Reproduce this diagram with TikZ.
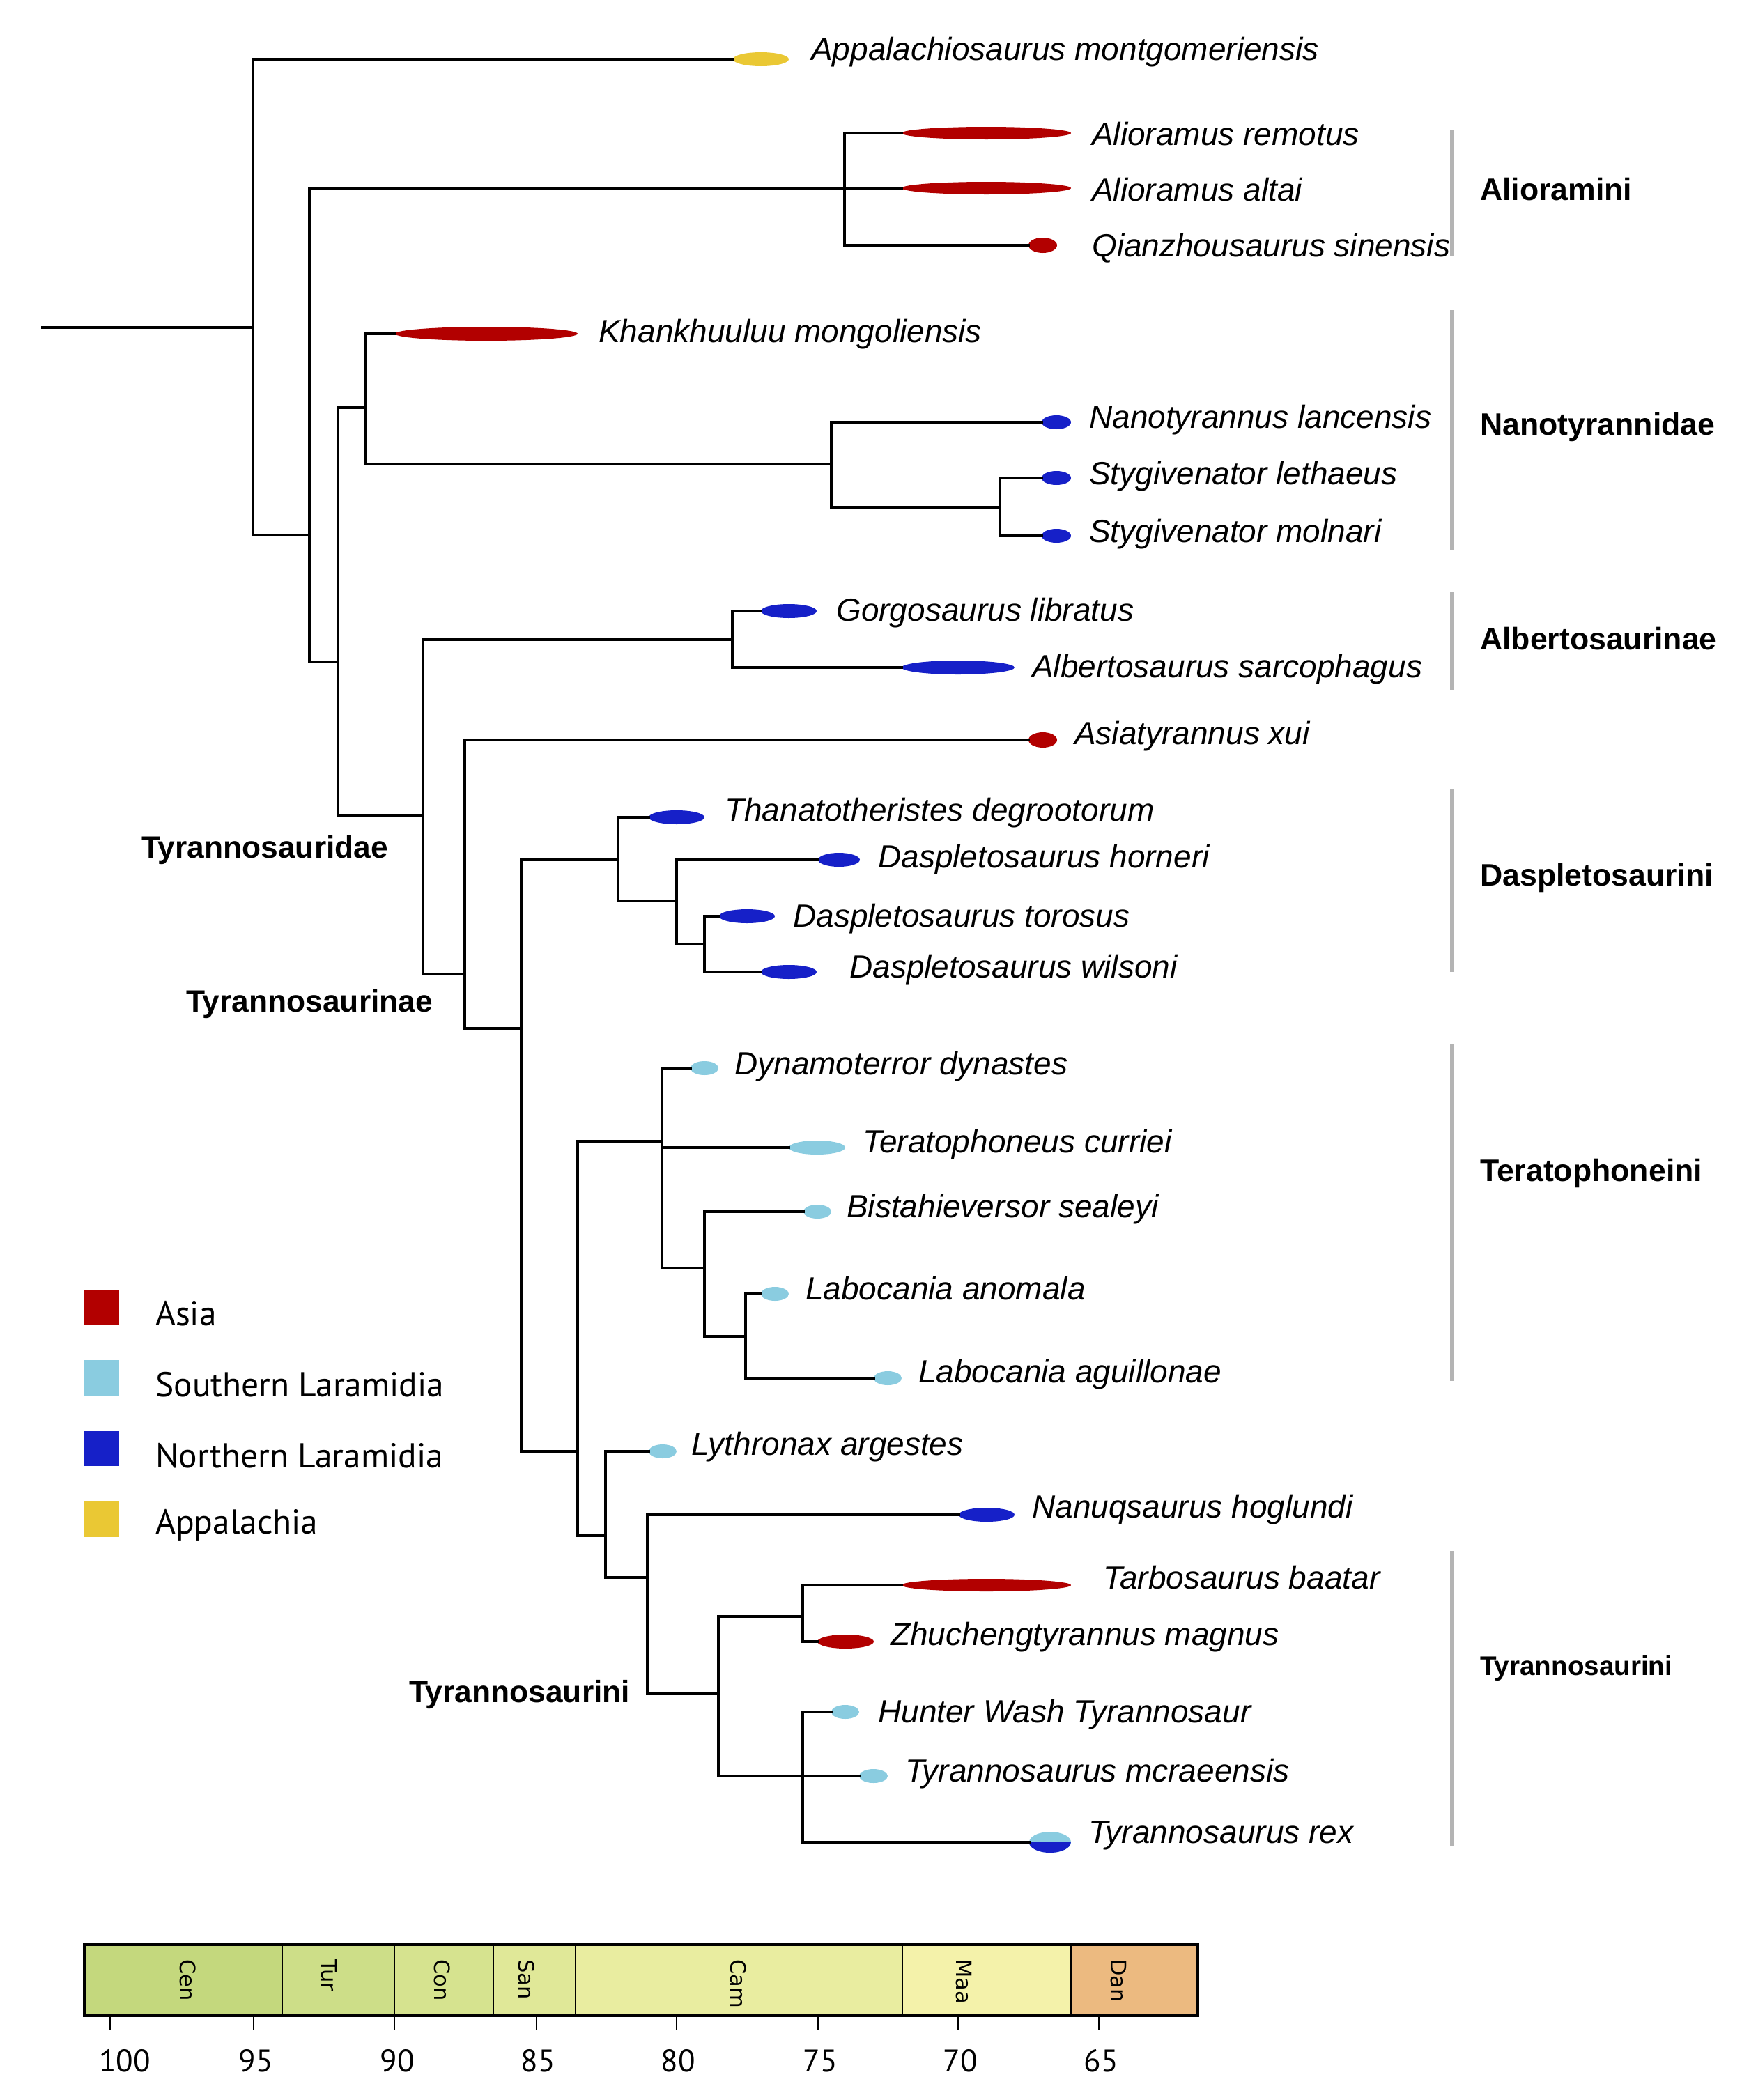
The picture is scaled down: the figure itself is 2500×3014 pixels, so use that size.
\documentclass[tikz,border=0pt]{standalone}
\usepackage{fontspec}
\setmainfont{Liberation Sans}
\newfontfamily\legendfont{PT Sans}
\newfontfamily\stagefont{DejaVu Sans}
\usetikzlibrary{shapes.geometric}
\definecolor{asia}{RGB}{178,0,0}
\definecolor{slar}{RGB}{138,204,224}
\definecolor{nlar}{RGB}{22,32,200}
\definecolor{appa}{RGB}{234,200,52}
\definecolor{brk}{RGB}{180,180,180}
\definecolor{cCen}{RGB}{196,216,125}
\definecolor{cTur}{RGB}{205,222,136}
\definecolor{cCon}{RGB}{214,227,143}
\definecolor{cSan}{RGB}{224,232,152}
\definecolor{cCam}{RGB}{233,237,160}
\definecolor{cMaa}{RGB}{244,242,170}
\definecolor{cDan}{RGB}{236,186,128}
\tikzset{
  branch/.style={line width=3.8pt, line cap=rect, line join=miter, black},
  tipdot/.style={ellipse, inner sep=0pt, draw=none, minimum height=20pt},
  spname/.style={anchor=base west, inner sep=0pt, font=\itshape\fontsize{46}{50}\selectfont},
  cladeR/.style={anchor=west, inner sep=0pt, font=\bfseries\fontsize{44.6}{50}\selectfont},
  cladeL/.style={anchor=west, inner sep=0pt, font=\bfseries\fontsize{44.3}{50}\selectfont},
  bracket/.style={line width=5pt, brk},
  stagelab/.style={anchor=west, rotate=-90, inner sep=0pt, font=\stagefont\fontsize{30.5}{34}\selectfont},
  ticklab/.style={inner sep=0pt, font=\legendfont\fontsize{45}{50}\selectfont},
  leglab/.style={anchor=west, inner sep=0pt, font=\legendfont\fontsize{49.5}{54}\selectfont},
}
\begin{document}
\begin{tikzpicture}[x=1pt,y=-1pt]
\useasboundingbox (0,0) rectangle (2500,3014);
\fill[white] (0,0) rectangle (2500,3014);

% ---- internal node coordinates (x of node, y where parent joins)
\coordinate (stem) at (61,470);
\coordinate (root) at (363,470);
\coordinate (nB) at (444,768);
\coordinate (nAlio) at (1212,270);
\coordinate (nC) at (485,950);
\coordinate (nD) at (524,585);
\coordinate (nNano) at (1193,666);
\coordinate (nSty) at (1435,728);
\coordinate (nTyr) at (607,1170);
\coordinate (nAlb) at (1051,918);
\coordinate (nTnae) at (667,1398);
\coordinate (nE) at (748,1476);
\coordinate (nDasp) at (887,1234);
\coordinate (nF) at (971,1293);
\coordinate (nG) at (1011,1355);
\coordinate (nH) at (829,2083);
\coordinate (nTer) at (950,1638);
\coordinate (nI) at (1011,1820);
\coordinate (nLab) at (1070,1918);
\coordinate (nJ) at (869,2204);
\coordinate (nK) at (929,2264);
\coordinate (nL) at (1031,2431);
\coordinate (nM) at (1152,2320);
\coordinate (nN) at (1152,2549);

% ---- tip ellipses
\path
 (1092,85)    node[tipdot, fill=appa, minimum width=80pt] (app) {}
 (1415.5,270) node[tipdot, fill=asia, minimum width=243pt, minimum height=18pt] (aalt) {}
 (1415.5,191) node[tipdot, fill=asia, minimum width=243pt, minimum height=18pt] (arem) {}
 (1496.5,352) node[tipdot, fill=asia, minimum width=41pt, minimum height=22pt] (qian) {}
 (698,479)    node[tipdot, fill=asia, minimum width=262pt] (khan) {}
 (1516,606)   node[tipdot, fill=nlar, minimum width=42pt] (nano) {}
 (1516,686)   node[tipdot, fill=nlar, minimum width=42pt] (slet) {}
 (1516,769)   node[tipdot, fill=nlar, minimum width=42pt] (smol) {}
 (1132,877)   node[tipdot, fill=nlar, minimum width=80pt] (gorg) {}
 (1375,958)   node[tipdot, fill=nlar, minimum width=162pt] (albe) {}
 (1496.5,1062) node[tipdot, fill=asia, minimum width=41pt, minimum height=22pt] (asty) {}
 (971,1173)   node[tipdot, fill=nlar, minimum width=80pt] (than) {}
 (1204,1234)  node[tipdot, fill=nlar, minimum width=60pt] (dhor) {}
 (1072,1315)  node[tipdot, fill=nlar, minimum width=80pt] (dtor) {}
 (1132,1395)  node[tipdot, fill=nlar, minimum width=80pt] (dwil) {}
 (1011,1533)  node[tipdot, fill=slar, minimum width=40pt] (dyna) {}
 (1172.5,1647) node[tipdot, fill=slar, minimum width=81pt] (tera) {}
 (1173,1739)  node[tipdot, fill=slar, minimum width=40pt] (bist) {}
 (1112,1857)  node[tipdot, fill=slar, minimum width=40pt] (lano) {}
 (1274,1978)  node[tipdot, fill=slar, minimum width=40pt] (lagu) {}
 (951,2083)   node[tipdot, fill=slar, minimum width=40pt] (lyth) {}
 (1416,2174)  node[tipdot, fill=nlar, minimum width=80pt] (nanu) {}
 (1415.5,2275) node[tipdot, fill=asia, minimum width=243pt, minimum height=18pt] (tarb) {}
 (1213.5,2356) node[tipdot, fill=asia, minimum width=81pt] (zhuc) {}
 (1213,2457)  node[tipdot, fill=slar, minimum width=40pt] (hwt) {}
 (1253.5,2549) node[tipdot, fill=slar, minimum width=41pt] (tmcr) {}
 (1507,2644)  node[tipdot, fill=slar, minimum width=60pt, minimum height=30pt] (trex) {};
\fill[nlar] (trex.west) arc[start angle=180, end angle=360, x radius=30pt, y radius=15pt] -- cycle;

% ---- branches
\draw[branch] (stem) -- (root);
\draw[branch] (root) |- (app.west);
\draw[branch] (root) |- (nB);
\draw[branch] (nB) |- (nAlio);
\draw[branch] (nB) |- (nC);
\draw[branch] (nAlio) |- (arem.west);
\draw[branch] (nAlio) |- (aalt.west);
\draw[branch] (nAlio) |- (qian.west);
\draw[branch] (nC) |- (nD);
\draw[branch] (nC) |- (nTyr);
\draw[branch] (nD) |- (khan.west);
\draw[branch] (nD) |- (nNano);
\draw[branch] (nNano) |- (nano.west);
\draw[branch] (nNano) |- (nSty);
\draw[branch] (nSty) |- (slet.west);
\draw[branch] (nSty) |- (smol.west);
\draw[branch] (nTyr) |- (nAlb);
\draw[branch] (nTyr) |- (nTnae);
\draw[branch] (nAlb) |- (gorg.west);
\draw[branch] (nAlb) |- (albe.west);
\draw[branch] (nTnae) |- (asty.west);
\draw[branch] (nTnae) |- (nE);
\draw[branch] (nE) |- (nDasp);
\draw[branch] (nE) |- (nH);
\draw[branch] (nDasp) |- (than.west);
\draw[branch] (nDasp) |- (nF);
\draw[branch] (nF) |- (dhor.west);
\draw[branch] (nF) |- (nG);
\draw[branch] (nG) |- (dtor.west);
\draw[branch] (nG) |- (dwil.west);
\draw[branch] (nH) |- (nTer);
\draw[branch] (nH) |- (nJ);
\draw[branch] (nTer) |- (dyna.west);
\draw[branch] (nTer) |- (tera.west);
\draw[branch] (nTer) |- (nI);
\draw[branch] (nI) |- (bist.west);
\draw[branch] (nI) |- (nLab);
\draw[branch] (nLab) |- (lano.west);
\draw[branch] (nLab) |- (lagu.west);
\draw[branch] (nJ) |- (lyth.west);
\draw[branch] (nJ) |- (nK);
\draw[branch] (nK) |- (nanu.west);
\draw[branch] (nK) |- (nL);
\draw[branch] (nL) |- (nM);
\draw[branch] (nL) |- (nN);
\draw[branch] (nM) |- (tarb.west);
\draw[branch] (nM) |- (zhuc.west);
\draw[branch] (nN) |- (hwt.west);
\draw[branch] (nN) |- (tmcr.west);
\draw[branch] (nN) |- (trex.west);

% ---- species labels
\node[spname] (l1) at (1164,86) {Appalachiosaurus montgomeriensis};
\node[spname] (l2) at (1567,208) {Alioramus remotus};
\node[spname] (l3) at (1567,288) {Alioramus altai};
\node[spname] (l4) at (1567,368) {Qianzhousaurus sinensis};
\node[spname] (l5) at (859,491) {Khankhuuluu mongoliensis};
\node[spname] (l6) at (1563,614) {Nanotyrannus lancensis};
\node[spname] (l7) at (1563,695) {Stygivenator lethaeus};
\node[spname] (l8) at (1563,778) {Stygivenator molnari};
\node[spname] (l9) at (1200,891) {Gorgosaurus libratus};
\node[spname] (l10) at (1481,972) {Albertosaurus sarcophagus};
\node[spname] (l11) at (1542,1068) {Asiatyrannus xui};
\node[spname] (l12) at (1040,1178) {Thanatotheristes degrootorum};
\node[spname] (l13) at (1260,1245) {Daspletosaurus horneri};
\node[spname] (l14) at (1138,1330) {Daspletosaurus torosus};
\node[spname] (l15) at (1219,1403) {Daspletosaurus wilsoni};
\node[spname] (l16) at (1054,1542) {Dynamoterror dynastes};
\node[spname] (l17) at (1238,1654) {Teratophoneus curriei};
\node[spname] (l18) at (1215,1747) {Bistahieversor sealeyi};
\node[spname] (l19) at (1156,1865) {Labocania anomala};
\node[spname] (l20) at (1318,1984) {Labocania aguillonae};
\node[spname] (l21) at (992,2088) {Lythronax argestes};
\node[spname] (l22) at (1481,2178) {Nanuqsaurus hoglundi};
\node[spname] (l23) at (1583,2280) {Tarbosaurus baatar};
\node[spname] (l24) at (1278,2361) {Zhuchengtyrannus magnus};
\node[spname] (l25) at (1260,2472) {Hunter Wash Tyrannosaur};
\node[spname] (l26) at (1299,2557) {Tyrannosaurus mcraeensis};
\node[spname] (l27) at (1562,2645) {Tyrannosaurus rex};

% ---- clade brackets and labels
\draw[bracket] (2083,187) -- (2083,368);
\draw[bracket] (2083,445) -- (2083,789);
\draw[bracket] (2083,850) -- (2083,991);
\draw[bracket] (2083,1133) -- (2083,1395);
\draw[bracket] (2083,1498) -- (2083,1982);
\draw[bracket] (2083,2226) -- (2083,2650);
\node[cladeR] (cAlio) at (2124,272) {Alioramini};
\node[cladeR] (cNano) at (2124,613) {Nanotyrannidae};
\node[cladeR] (cAlb) at (2124,917) {Albertosaurinae};
\node[cladeR] (cDasp) at (2124,1260) {Daspletosaurini};
\node[cladeR] (cTer) at (2124,1684) {Teratophoneini};
\node[anchor=west, inner sep=0pt, font=\bfseries\fontsize{38.6}{44}\selectfont] (cTyrR) at (2124,2394) {Tyrannosaurini};
\node[cladeL] (cTyd) at (203,1220) {Tyrannosauridae};
\node[cladeL] (cTnae) at (267,1441) {Tyrannosaurinae};
\node[cladeL] (cTini) at (587,2432) {Tyrannosaurini};

% ---- legend
\fill[asia] (121,1851) rectangle (171,1901);
\fill[slar] (121,1952) rectangle (171,2003);
\fill[nlar] (121,2054) rectangle (171,2104);
\fill[appa] (121,2155) rectangle (171,2206);
\node[leglab] (g1) at (223,1885) {Asia};
\node[leglab] (g2) at (223,1987) {Southern Laramidia};
\node[leglab] (g3) at (223,2089) {Northern Laramidia};
\node[leglab] (g4) at (223,2189) {Appalachia};

% ---- time scale
\fill[cCen] (121,2791) rectangle (405,2893);
\fill[cTur] (405,2791) rectangle (566,2893);
\fill[cCon] (566,2791) rectangle (708,2893);
\fill[cSan] (708,2791) rectangle (826,2893);
\fill[cCam] (826,2791) rectangle (1295,2893);
\fill[cMaa] (1295,2791) rectangle (1537,2893);
\fill[cDan] (1537,2791) rectangle (1719,2893);
\foreach \bx in {405,566,708,826,1295,1537}{
  \draw[line width=2pt] (\bx,2791) -- (\bx,2893);
}
\draw[line width=3.2pt] (121,2791) rectangle (1719,2893);
\node[stagelab] (sCen) at (270,2812) {Cen};
\node[stagelab] (sTur) at (472,2812) {Tur};
\node[stagelab] (sCon) at (635,2812) {Con};
\node[stagelab] (sSan) at (756,2812) {San};
\node[stagelab] (sCam) at (1060,2812) {Cam};
\node[stagelab] (sMaa) at (1383,2812) {Maa};
\node[stagelab] (sDan) at (1605,2812) {Dan};
\foreach \tx in {158,364,566,770,971,1174,1375,1577}{
  \draw[line width=1.6pt] (\tx,2893) -- (\tx,2913);
}
\foreach \lx/\tl in {179/100,367/95,570/90,772/85,973/80,1177/75,1378/70,1580/65}{
  \node[ticklab] at (\lx,2958) {\tl};
}
\end{tikzpicture}
\end{document}
